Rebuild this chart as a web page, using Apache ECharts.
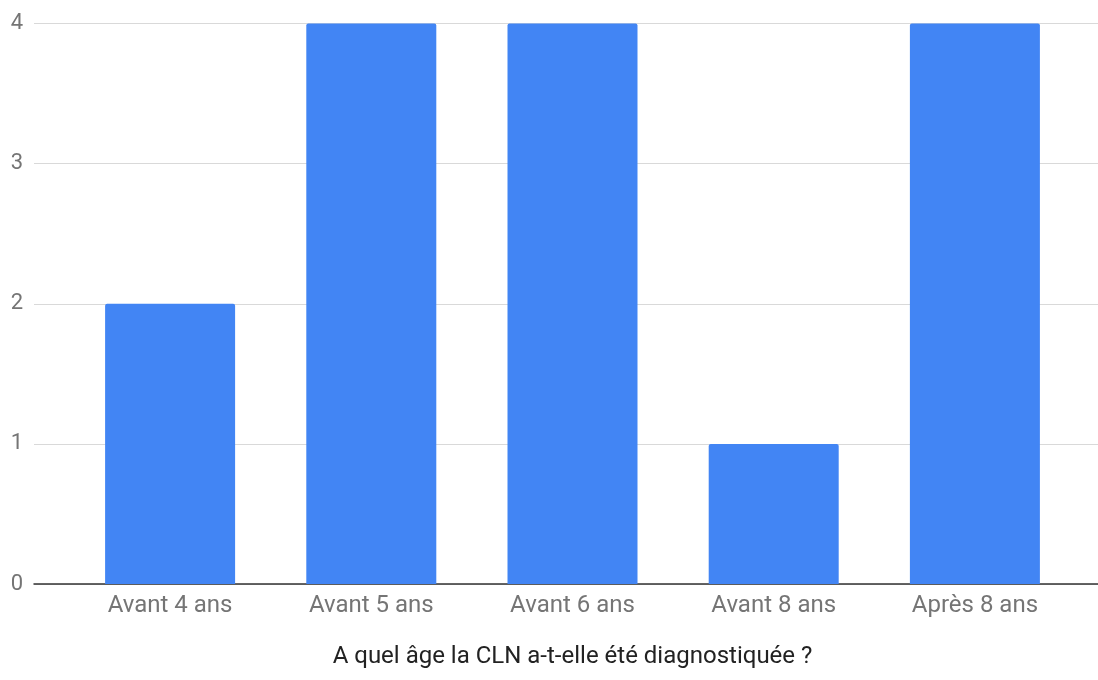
<!DOCTYPE html>
<html>
<head>
<meta charset="utf-8">
<script src="https://cdn.jsdelivr.net/npm/echarts@6/dist/echarts.min.js"></script>
<style>
  html, body { margin: 0; padding: 0; background: #fff; }
  #chart { width: 1098px; height: 680px; }
</style>
</head>
<body>
<div id="chart"></div>
<script>
// Age at which CLN was diagnosed: number of responses per age bracket
const categories = ['Avant 4 ans', 'Avant 5 ans', 'Avant 6 ans', 'Avant 8 ans', 'Après 8 ans'];
const counts = [2, 4, 4, 1, 4];
const yMin = 0;
const yMax = 4;
const yStep = 1;
const axisTitle = 'A quel âge la CLN a-t-elle été diagnostiquée ?';

const FONT = 'Roboto';
const chart = echarts.init(document.getElementById('chart'), null, { renderer: 'canvas' });

chart.setOption({
  animation: false,
  textStyle: { fontFamily: FONT },
  grid: [
    // full-width frame carrying the value axis, gridlines and baseline
    { left: 34, right: 0, top: 23.5, bottom: 96, containLabel: false },
    // inner band holding the category bars
    { left: 69.5, right: 22.5, top: 23.5, bottom: 96, containLabel: false }
  ],
  xAxis: [
    {
      gridIndex: 0, type: 'value', min: 0, max: 1,
      axisLine: { show: true, onZero: false, lineStyle: { color: '#333', width: 1.5 } },
      axisTick: { show: false }, axisLabel: { show: false }, splitLine: { show: false }
    },
    {
      gridIndex: 1, type: 'category', data: categories,
      axisLine: { show: false }, axisTick: { show: false },
      axisLabel: { color: '#757575', fontSize: 24, margin: 10, fontFamily: FONT },
      name: axisTitle, nameLocation: 'middle', nameGap: 61,
      nameTextStyle: { color: '#222', fontSize: 24, fontFamily: FONT }
    }
  ],
  yAxis: [
    {
      gridIndex: 0, type: 'value', min: yMin, max: yMax, interval: yStep,
      axisLine: { show: false }, axisTick: { show: false },
      axisLabel: { color: '#757575', fontSize: 22, margin: 11, fontFamily: FONT },
      splitLine: { show: true, lineStyle: { color: '#d9d9d9', width: 1 } }
    },
    {
      gridIndex: 1, type: 'value', min: yMin, max: yMax, interval: yStep, show: false
    }
  ],
  series: [
    {
      type: 'bar', xAxisIndex: 1, yAxisIndex: 1,
      data: counts, barWidth: 130,
      itemStyle: { color: '#4285F4', borderRadius: [2, 2, 0, 0] },
      z: 1
    }
  ]
});
</script>
</body>
</html>
